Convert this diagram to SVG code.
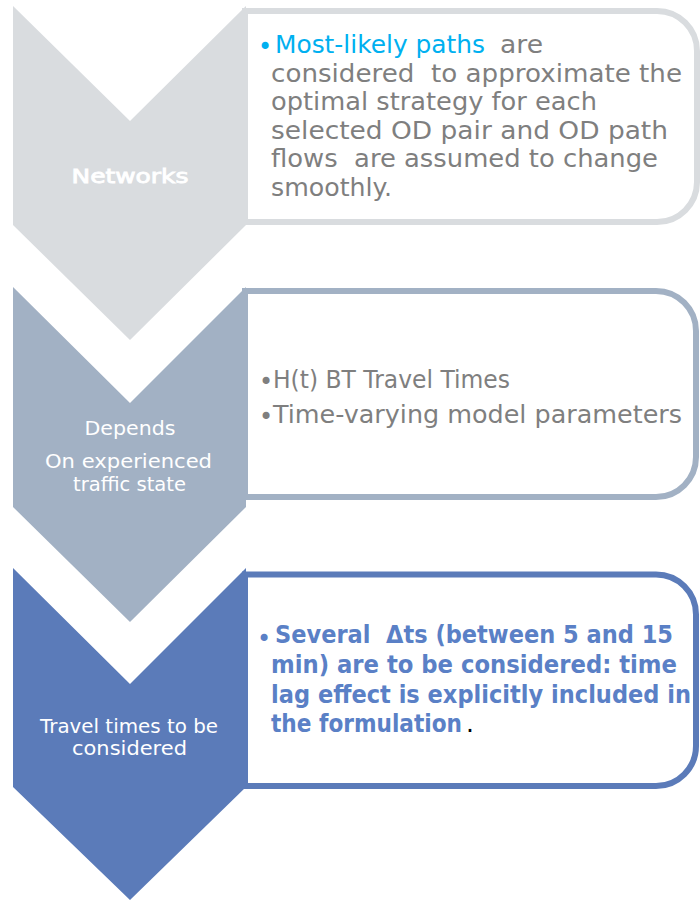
<svg xmlns="http://www.w3.org/2000/svg" width="700" height="901" viewBox="0 0 700 901">
  <style>
    .box { fill: #ffffff; stroke-width: 6; }
    .b1 { stroke: #d9dcdf; }
    .b2 { stroke: #a2b1c4; }
    .b3 { stroke: #5b7bb9; }
    .c1 { fill: #d9dcdf; }
    .c2 { fill: #a2b1c4; }
    .c3 { fill: #5b7bb9; }
    .lbl { font-family: "DejaVu Sans", "Verdana", sans-serif; fill: #ffffff; text-anchor: middle; font-size: 19px; }
    .body { font-family: "DejaVu Sans", sans-serif; font-size: 25px; white-space: pre; }
    .gray { fill: #7f7f7f; }
    .cyan { fill: #00b0f0; }
    .blue { fill: #5a80c6; font-weight: bold; }
    .bul { font-family: "DejaVu Sans", sans-serif; font-size: 24px; }
  </style>

  <g id="box1">
    <path class="box b1" d="M245,11 H657 A40,40 0 0 1 697,51 V182 A40,40 0 0 1 657,222 H245 Z"/>
    <text class="bul cyan" x="258" y="55">•</text>
    <text class="body" y="53"><tspan class="cyan" x="275" textLength="210" lengthAdjust="spacingAndGlyphs">Most-likely paths</tspan><tspan class="gray" x="500" textLength="43" lengthAdjust="spacingAndGlyphs">are</tspan></text>
    <text class="body gray" x="271" y="81.6" textLength="411" lengthAdjust="spacingAndGlyphs">considered  to approximate the</text>
    <text class="body gray" x="271" y="110.2" textLength="326" lengthAdjust="spacingAndGlyphs">optimal strategy for each</text>
    <text class="body gray" x="271" y="138.8" textLength="397" lengthAdjust="spacingAndGlyphs">selected OD pair and OD path</text>
    <text class="body gray" x="271" y="167.4" textLength="387" lengthAdjust="spacingAndGlyphs">flows  are assumed to change</text>
    <text class="body gray" x="271" y="196" textLength="121" lengthAdjust="spacingAndGlyphs">smoothly.</text>
  </g>

  <g id="box2">
    <path class="box b2" d="M245,291 H656 A40,40 0 0 1 696,331 V457 A40,40 0 0 1 656,497 H245 Z"/>
    <text class="bul gray" x="259" y="390">•</text>
    <text class="body gray" x="273" y="388" textLength="237" lengthAdjust="spacingAndGlyphs">H(t) BT Travel Times</text>
    <text class="bul gray" x="259" y="425">•</text>
    <text class="body gray" x="273" y="423" textLength="409" lengthAdjust="spacingAndGlyphs">Time-varying model parameters</text>
  </g>

  <g id="box3">
    <path class="box b3" d="M245,574.5 H656 A40,40 0 0 1 696,614.5 V746 A40,40 0 0 1 656,786 H245 Z"/>
    <text class="bul" x="257" y="647" fill="#5a80c6">•</text>
    <text class="body blue" x="275" y="643" font-size="21.5" textLength="398" lengthAdjust="spacingAndGlyphs">Several  Δts (between 5 and 15</text>
    <text class="body blue" x="271" y="673" font-size="21.5" textLength="406" lengthAdjust="spacingAndGlyphs">min) are to be considered: time</text>
    <text class="body blue" x="271" y="702.5" font-size="21.5" textLength="420" lengthAdjust="spacingAndGlyphs">lag effect is explicitly included in</text>
    <text class="body blue" x="271" y="732" font-size="21" textLength="191" lengthAdjust="spacingAndGlyphs">the formulation</text>
    <text class="body" x="466" y="732" font-size="22" fill="#000000">.</text>
  </g>

  <g id="chevron1">
    <polygon class="c1" points="13,6 130,121 246,6 246,225 130,340 13,225"/>
    <text class="lbl" x="130" y="183" font-size="24" stroke="#ffffff" stroke-width="0.8" textLength="117" lengthAdjust="spacingAndGlyphs">Networks</text>
  </g>

  <g id="chevron2">
    <polygon class="c2" points="13,287 130,403 246,287 246,507 130,622 13,507"/>
    <text class="lbl" x="130" y="435" textLength="91" lengthAdjust="spacingAndGlyphs">Depends</text>
    <text class="lbl" x="128.5" y="468" textLength="167" lengthAdjust="spacingAndGlyphs">On experienced</text>
    <text class="lbl" x="129.5" y="491" textLength="113" lengthAdjust="spacingAndGlyphs">traffic state</text>
  </g>

  <g id="chevron3">
    <polygon class="c3" points="13,568 130,684 246,568 246,787 130,900 13,787"/>
    <text class="lbl" x="129" y="733" textLength="178" lengthAdjust="spacingAndGlyphs">Travel times to be</text>
    <text class="lbl" x="129.5" y="755" textLength="115" lengthAdjust="spacingAndGlyphs">considered</text>
  </g>

  <g id="connectors"></g>
</svg>
